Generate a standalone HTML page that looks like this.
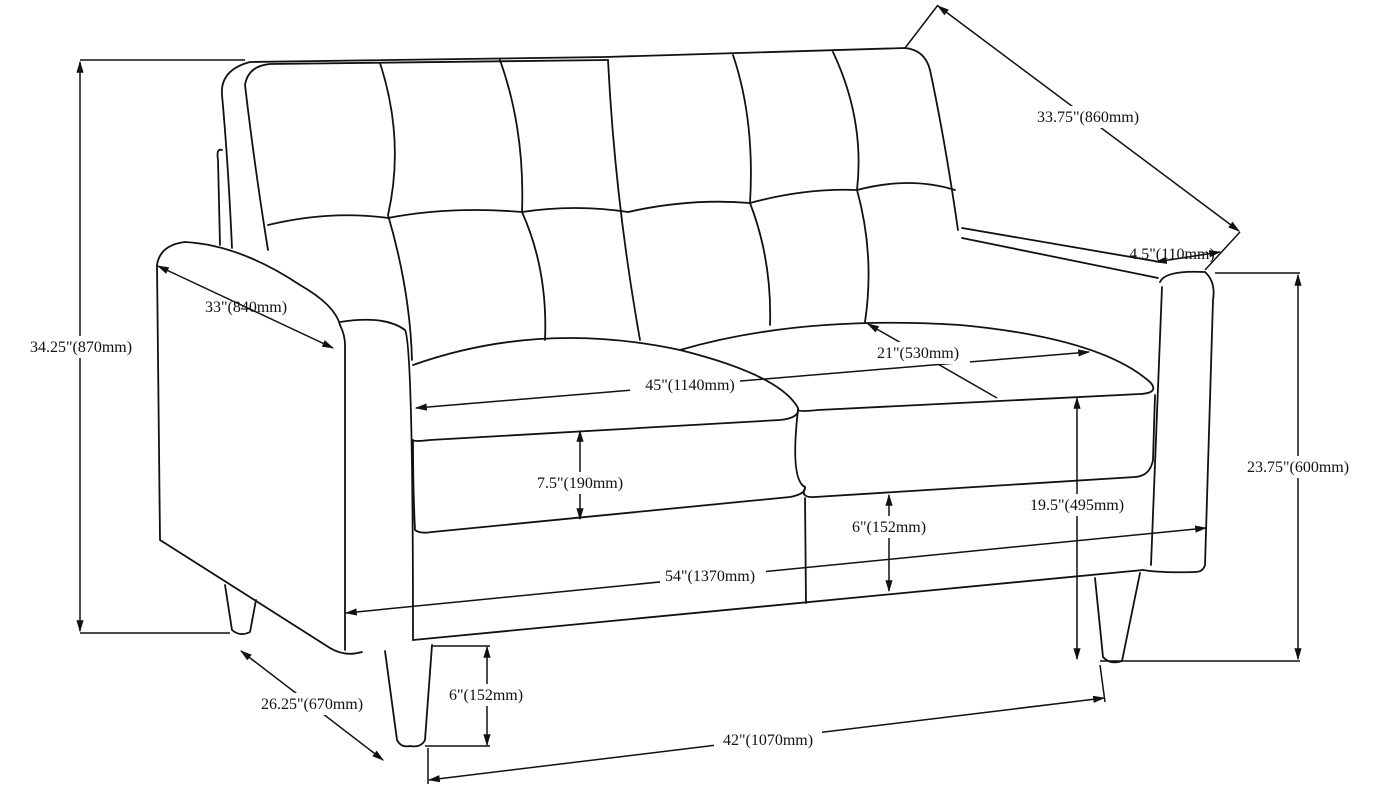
<!DOCTYPE html>
<html><head><meta charset="utf-8"><style>
html,body{margin:0;padding:0;background:#fff}
svg{display:block}
text{font-family:"Liberation Serif",serif;font-size:16px;fill:#111}
</style></head><body>
<svg width="1386" height="798" viewBox="0 0 1386 798" xmlns="http://www.w3.org/2000/svg">
<defs>
<marker id="a" viewBox="0 0 10 10" refX="9" refY="5" markerWidth="8" markerHeight="8" orient="auto-start-reverse"><path d="M0,2 L10,5 L0,8 z" fill="#111"/></marker>
</defs>
<g fill="none" stroke="#111" stroke-width="1.8" stroke-linecap="round" stroke-linejoin="round">
<!-- back -->
<path d="M232,248 Q228,160 222,95 Q220,70 250,62 L605,57 L905,48 Q925,50 930,70 Q945,140 958,230"/>
<path d="M268,250 Q255,170 245,85 Q248,66 270,64 L608,60"/>
<path d="M608,60 Q615,200 640,340"/>
<path d="M222,150 Q216,148 218,160 L220,245"/>
<!-- tufting -->
<path d="M380,63 Q405,140 388,215 Q410,290 412,360"/>
<path d="M500,60 Q525,130 522,212 Q548,270 545,340"/>
<path d="M733,55 Q755,120 750,203 Q772,260 770,325"/>
<path d="M833,52 Q865,120 857,190 Q875,255 865,322"/>
<path d="M268,225 Q330,210 388,218 Q450,206 522,212 Q575,204 628,212 Q690,198 750,203 Q805,188 857,190 Q910,176 955,190"/>
<!-- left arm -->
<path d="M157,265 Q160,245 185,242 Q240,245 300,285 Q335,305 340,325"/>
<path d="M157,265 L160,540 L330,648 Q345,657 362,652"/>
<path d="M340,325 Q345,335 345,345 L345,650"/>
<path d="M340,322 Q385,315 405,330 Q413,345 413,640"/>
<!-- seat cushions -->
<path d="M413,365 Q540,320 680,350 Q780,375 798,408 Q800,418 780,420 L430,440 Q413,442 413,440"/>
<path d="M413,440 Q413,490 415,530 Q420,534 432,532 L790,497 Q806,494 805,487 Q790,480 798,410"/>
<path d="M680,350 Q800,315 960,325 Q1100,338 1150,382 Q1160,393 1140,394 L818,410 Q800,412 798,410"/>
<path d="M1155,395 L1153,460 Q1150,476 1135,477 L815,497 Q800,498 805,488"/>
<path d="M413,640 L1143,570"/>
<path d="M805,498 L806,603"/>
<!-- right arm -->
<path d="M962,228 L1160,262"/>
<path d="M962,238 L1158,278"/>
<path d="M1160,282 Q1165,270 1205,272 Q1216,282 1213,300 L1205,565 Q1203,572 1195,572 Q1160,573 1143,570"/>
<path d="M1162,287 L1151,565"/>
<!-- legs -->
<path d="M385,651 L397,740 Q401,748 410,746 Q421,748 425,740 L432,645"/>
<path d="M225,585 L232,630 Q240,637 250,632 L256,600"/>
<path d="M1095,578 L1103,657 Q1110,665 1122,661 L1140,573"/>
</g>
<!-- dimension lines -->
<g fill="none" stroke="#111" stroke-width="1.5">
<path d="M80,60 L245,60 M80,633 L230,633"/>
<path d="M80,62 L80,631" marker-start="url(#a)" marker-end="url(#a)"/>
<path d="M905,48 L938,5 M1240,232 L1205,270"/>
<path d="M938,6 L1239,231" marker-start="url(#a)" marker-end="url(#a)"/>
<path d="M1156,262 L1220,252" marker-start="url(#a)" marker-end="url(#a)"/>
<path d="M1215,273 L1300,273 M1100,661 L1300,661"/>
<path d="M1298,275 L1298,659" marker-start="url(#a)" marker-end="url(#a)"/>
<path d="M1077,398 L1077,659" marker-start="url(#a)" marker-end="url(#a)"/>
<path d="M158,266 L333,348" marker-start="url(#a)" marker-end="url(#a)"/>
<path d="M416,408 L1089,352" marker-start="url(#a)" marker-end="url(#a)"/>
<path d="M868,324 L997,398" marker-start="url(#a)"/>
<path d="M580,431 L580,519" marker-start="url(#a)" marker-end="url(#a)"/>
<path d="M889,495 L889,591" marker-start="url(#a)" marker-end="url(#a)"/>
<path d="M346,613 L1206,528" marker-start="url(#a)" marker-end="url(#a)"/>
<path d="M241,651 L383,760" marker-start="url(#a)" marker-end="url(#a)"/>
<path d="M432,646 L490,646 M425,746 L490,746"/>
<path d="M487,647 L487,745" marker-start="url(#a)" marker-end="url(#a)"/>
<path d="M428,748 L428,784 M1100,665 L1105,702"/>
<path d="M429,780 L1104,698" marker-start="url(#a)" marker-end="url(#a)"/>
</g>
<!-- labels -->
<g>
<rect x="22" y="336" width="118" height="22" fill="#fff"/>
<text x="81" y="352" text-anchor="middle">34.25"(870mm)</text>
<rect x="1028" y="106" width="122" height="22" fill="#fff"/>
<text x="1088" y="122" text-anchor="middle">33.75"(860mm)</text>
<text x="1172" y="259" text-anchor="middle">4.5"(110mm)</text>
<rect x="1238" y="456" width="120" height="22" fill="#fff"/>
<text x="1298" y="472" text-anchor="middle">23.75"(600mm)</text>
<rect x="1020" y="494" width="112" height="22" fill="#fff"/>
<text x="1077" y="510" text-anchor="middle">19.5"(495mm)</text>
<text x="246" y="312" text-anchor="middle">33"(840mm)</text>
<rect x="630" y="374" width="110" height="22" fill="#fff"/>
<text x="690" y="390" text-anchor="middle">45"(1140mm)</text>
<rect x="870" y="342" width="100" height="22" fill="#fff"/>
<text x="918" y="358" text-anchor="middle">21"(530mm)</text>
<rect x="530" y="472" width="100" height="22" fill="#fff"/>
<text x="580" y="488" text-anchor="middle">7.5"(190mm)</text>
<rect x="845" y="516" width="90" height="22" fill="#fff"/>
<text x="889" y="532" text-anchor="middle">6"(152mm)</text>
<rect x="660" y="565" width="106" height="22" fill="#fff"/>
<text x="710" y="581" text-anchor="middle">54"(1370mm)</text>
<rect x="252" y="693" width="120" height="22" fill="#fff"/>
<text x="312" y="709" text-anchor="middle">26.25"(670mm)</text>
<rect x="442" y="684" width="90" height="22" fill="#fff"/>
<text x="486" y="700" text-anchor="middle">6"(152mm)</text>
<rect x="714" y="729" width="108" height="22" fill="#fff"/>
<text x="768" y="745" text-anchor="middle">42"(1070mm)</text>
</g>
</svg>
</body></html>
